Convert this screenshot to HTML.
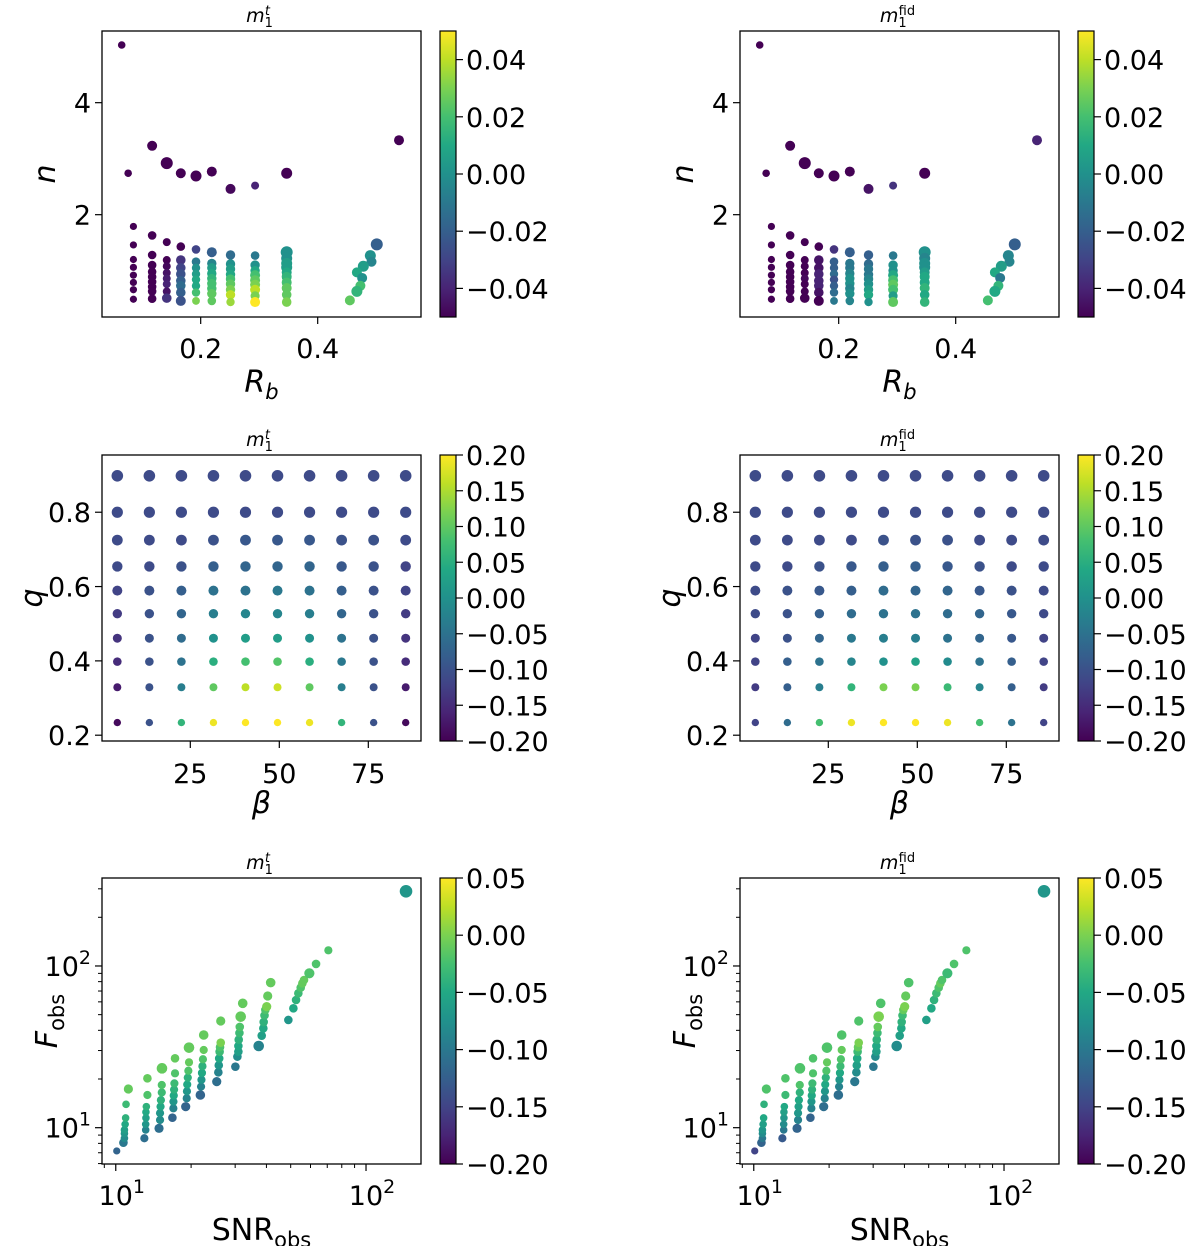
<!DOCTYPE html>
<html><head><meta charset="utf-8">
<style>
html,body{margin:0;padding:0;background:#fff;}
svg{display:block;font-family:"DejaVu Sans","Liberation Sans",sans-serif;}
</style></head>
<body>
<svg id="fig" width="1200" height="1246" viewBox="0 0 1200 1246" xmlns="http://www.w3.org/2000/svg">
<defs>
<linearGradient id="viridis" x1="0" y1="1" x2="0" y2="0">
<stop offset="0" stop-color="#440154"/><stop offset="0.1" stop-color="#482475"/><stop offset="0.2" stop-color="#414487"/><stop offset="0.3" stop-color="#355f8d"/><stop offset="0.4" stop-color="#2a788e"/><stop offset="0.5" stop-color="#21918c"/><stop offset="0.6" stop-color="#22a884"/><stop offset="0.7" stop-color="#44bf70"/><stop offset="0.8" stop-color="#7ad151"/><stop offset="0.9" stop-color="#bddf26"/><stop offset="1" stop-color="#fde725"/>
</linearGradient>
</defs>
</svg>
<script>
// ---------- Panel 1 data: R_b vs n ----------
const p1Rb = [0.065,0.076,0.117,0.142,0.166,0.192,0.219,0.251,0.293,0.347,0.539,
 0.085,0.085,0.085,0.085,0.085,0.085,0.085,0.085,
 0.117,0.117,0.117,0.117,0.117,0.117,0.117,0.117,0.117,
 0.142,0.142,0.142,0.142,0.142,0.142,0.142,0.142,
 0.166,0.166,0.166,0.166,0.166,0.166,0.166,0.166,
 0.192,0.192,0.192,0.192,0.192,0.192,0.192,0.192,
 0.219,0.219,0.219,0.219,0.219,0.219,0.219,0.219,0.219,
 0.251,0.251,0.251,0.251,0.251,0.251,0.251,0.251,0.251,
 0.293,0.293,0.293,0.293,0.293,0.293,0.293,0.293,0.293,
 0.347,0.347,0.347,0.347,0.347,0.347,0.347,0.347,0.347,0.347,
 0.501,0.490,0.492,0.478,0.467,0.476,0.473,0.467,0.455];
const p1N = [5.03,2.74,3.23,2.92,2.74,2.69,2.77,2.46,2.52,2.74,3.33,
 1.79,1.46,1.20,1.06,0.92,0.79,0.66,0.49,
 1.63,1.28,1.10,0.98,0.89,0.80,0.71,0.63,0.50,
 1.51,1.19,1.08,0.96,0.86,0.76,0.63,0.51,
 1.43,1.19,1.05,0.94,0.82,0.73,0.61,0.46,
 1.38,1.16,1.05,0.94,0.84,0.73,0.61,0.46,
 1.33,1.13,1.05,0.95,0.86,0.77,0.68,0.59,0.46,
 1.28,1.12,1.03,0.93,0.85,0.76,0.66,0.57,0.44,
 1.27,1.10,1.00,0.92,0.83,0.75,0.66,0.55,0.44,
 1.33,1.22,1.13,1.06,0.97,0.89,0.79,0.69,0.57,0.44,
 1.47,1.27,1.16,1.08,0.97,0.87,0.73,0.63,0.47];
const p1ColL = [-0.05,-0.05,-0.05,-0.05,-0.05,-0.05,-0.05,-0.048,-0.04,-0.05,-0.05,
 -0.05,-0.05,-0.05,-0.05,-0.05,-0.05,-0.05,-0.05,
 -0.05,-0.05,-0.05,-0.05,-0.05,-0.05,-0.05,-0.05,-0.05,
 -0.05,-0.05,-0.048,-0.045,-0.042,-0.04,-0.045,-0.035,
 -0.05,-0.035,-0.03,-0.025,-0.02,-0.015,-0.02,-0.025,
 -0.03,-0.01,0,0.005,0.01,0.01,0.02,0.03,
 -0.02,-0.005,0.005,0.01,0.015,0.02,0.02,0.025,0.025,
 -0.015,0,0.005,0.01,0.02,0.025,0.03,0.04,0.035,
 -0.01,0,0.01,0.02,0.025,0.03,0.04,0.03,0.05,
 0,0,0.005,0.005,0.01,0.015,0.02,0.025,0.025,0.03,
 -0.02,0,-0.005,0.005,0.01,0,0.02,0.015,0.025];
const p1ColR = [-0.05,-0.05,-0.05,-0.05,-0.05,-0.05,-0.05,-0.045,-0.035,-0.05,-0.04,
 -0.05,-0.05,-0.05,-0.05,-0.05,-0.05,-0.05,-0.05,
 -0.05,-0.05,-0.05,-0.05,-0.05,-0.05,-0.05,-0.05,-0.05,
 -0.05,-0.05,-0.05,-0.05,-0.048,-0.05,-0.05,-0.05,
 -0.05,-0.045,-0.045,-0.04,-0.04,-0.04,-0.045,-0.05,
 -0.035,-0.02,-0.02,-0.015,-0.025,-0.02,-0.015,-0.01,
 -0.02,-0.01,-0.01,-0.005,0,0,-0.005,0,-0.005,
 -0.02,-0.015,-0.01,-0.01,-0.005,0,0.005,0.01,0,
 -0.01,0,0,0.01,0.02,0.025,0.02,0.005,0.025,
 0,-0.005,0,0,0.005,0.01,0.01,0.015,0.01,0.015,
 -0.02,-0.005,-0.005,0.005,0.01,-0.01,0.015,0.01,0.02];
const p1Size = [3.8,3.8,5,6,5,5.5,5,5,4,5.5,5,
 3.6,3.6,3.6,3.6,3.6,3.6,3.6,3.6,
 4.3,4.3,4.3,4.3,4.3,4.3,4.3,4.3,4.3,
 4,4,4,4,4,4,4,4.8,
 4.3,4.8,4.8,4.8,4.8,4.8,4.8,5,
 4.3,4.3,4.2,4.2,4.2,4.2,4.2,3.9,
 5,4.7,4.7,4.7,4.7,4.7,4.7,4.7,4.3,
 4.7,4.7,4.7,4.7,4.7,4.7,4.7,4.7,4.2,
 4.3,4.7,4.7,5,5,5,5,4.6,5,
 6,5.5,5.5,5.5,5,5,5,5,4.8,4.8,
 6,5.5,5,5.5,5,5,5,5.5,5];

// ---------- Panel 2 data: beta vs q ----------
const p2Beta = [4.5,13.5,22.5,31.5,40.5,49.5,58.5,67.5,76.5,85.5];
const p2Q = [0.898,0.8,0.725,0.654,0.589,0.527,0.461,0.398,0.329,0.234];
const p2ColL = [
 [-0.11,-0.11,-0.11,-0.11,-0.11,-0.11,-0.11,-0.11,-0.11,-0.11],
 [-0.11,-0.11,-0.11,-0.11,-0.11,-0.11,-0.11,-0.11,-0.11,-0.11],
 [-0.11,-0.11,-0.11,-0.10,-0.09,-0.09,-0.09,-0.10,-0.10,-0.11],
 [-0.11,-0.11,-0.10,-0.08,-0.07,-0.07,-0.07,-0.09,-0.10,-0.12],
 [-0.12,-0.10,-0.08,-0.05,-0.05,-0.04,-0.05,-0.08,-0.10,-0.12],
 [-0.13,-0.10,-0.07,-0.03,-0.02,-0.02,-0.03,-0.07,-0.10,-0.13],
 [-0.14,-0.10,-0.06,0.00,0.02,0.02,0.00,-0.05,-0.10,-0.14],
 [-0.15,-0.10,-0.05,0.05,0.08,0.09,0.05,-0.04,-0.10,-0.15],
 [-0.17,-0.10,-0.03,0.10,0.16,0.17,0.10,-0.03,-0.10,-0.17],
 [-0.19,-0.10,0.06,0.19,0.20,0.20,0.19,0.06,-0.10,-0.19]];
const p2ColR = [
 [-0.11,-0.11,-0.11,-0.11,-0.11,-0.11,-0.11,-0.11,-0.11,-0.11],
 [-0.11,-0.11,-0.11,-0.11,-0.11,-0.11,-0.11,-0.11,-0.11,-0.11],
 [-0.11,-0.11,-0.11,-0.11,-0.10,-0.10,-0.10,-0.11,-0.11,-0.11],
 [-0.11,-0.11,-0.10,-0.09,-0.08,-0.08,-0.09,-0.10,-0.11,-0.11],
 [-0.11,-0.10,-0.09,-0.08,-0.06,-0.07,-0.07,-0.09,-0.10,-0.11],
 [-0.11,-0.10,-0.08,-0.06,-0.05,-0.05,-0.06,-0.07,-0.09,-0.11],
 [-0.12,-0.10,-0.07,-0.04,-0.03,-0.03,-0.05,-0.07,-0.09,-0.12],
 [-0.12,-0.08,-0.05,-0.02,0.00,0.03,-0.01,-0.05,-0.08,-0.12],
 [-0.13,-0.08,-0.03,0.06,0.12,0.12,0.07,-0.02,-0.08,-0.13],
 [-0.12,-0.06,0.08,0.19,0.20,0.20,0.19,0.08,-0.05,-0.12]];
const p2Size = [5.8,5.6,5.4,5.2,5,4.7,4.5,4.3,4,3.7];

// ---------- Panel 3 data: SNR vs F (log-log) ----------
const p3Snr = [10.09,10.73,10.83,10.83,10.83,10.9,10.95,10.99,11.23,
 13.01,13.17,13.17,13.2,13.2,13.25,13.38,13.38,
 14.89,15.03,15.03,15.1,15.15,15.27,15.27,15.3,
 16.84,16.99,17.0,17.05,17.1,17.15,17.25,17.25,
 19.03,19.21,19.25,19.3,19.4,19.5,19.62,19.62,
 21.78,21.92,22.0,22.1,22.2,22.3,22.46,22.46,
 25.32,25.7,25.8,25.9,26.0,26.1,26.27,26.27,
 30.06,30.62,30.9,30.9,31.0,31.2,31.3,31.57,32.16,
 37.26,38.3,38.88,39.0,39.3,39.6,40.1,40.47,41.6,
 48.94,51.26,52.53,53.65,54.83,55.67,56.53,59.37,63.14,70.71,
 144.5];
const p3F = [7.18,8.08,8.6,9.2,9.68,10.5,11.5,13.95,17.35,
 8.6,9.68,10.5,11.5,12.5,13.5,15.93,20.2,
 9.91,11.16,12.3,13.5,14.8,16.5,18.37,23.29,
 11.53,13.18,14.5,15.8,17.2,18.8,21.69,26.85,
 13.49,15.19,16.8,18.5,20.4,22.5,25.37,31.25,
 15.93,17.94,19.8,21.8,24,26.5,30.24,37.43,
 19.26,22.0,24.3,26.8,29.5,31.5,33.56,45.69,
 23.84,27.5,29.53,32,35,38.5,42,48.6,58.76,
 32.0,37.08,41.17,45,49.5,53.5,56.05,65.2,78.9,
 46.35,54.7,61.6,67.76,73.45,78.15,81.9,90.1,102.9,125.0,
 289.6];
const p3ColL = [-0.12,-0.10,-0.08,-0.07,-0.06,-0.05,-0.04,-0.03,-0.01,
 -0.11,-0.09,-0.07,-0.06,-0.05,-0.04,-0.02,-0.01,
 -0.11,-0.08,-0.07,-0.05,-0.04,-0.03,-0.02,-0.01,
 -0.12,-0.09,-0.07,-0.05,-0.04,-0.03,-0.02,-0.01,
 -0.12,-0.09,-0.07,-0.05,-0.04,-0.02,-0.01,-0.01,
 -0.12,-0.09,-0.07,-0.05,-0.04,-0.02,-0.01,-0.01,
 -0.11,-0.09,-0.07,-0.05,-0.03,-0.02,0.00,-0.01,
 -0.10,-0.08,-0.06,-0.05,-0.04,-0.03,-0.02,-0.01,-0.01,
 -0.09,-0.06,-0.05,-0.04,-0.03,-0.02,0.00,-0.01,-0.01,
 -0.07,-0.05,-0.04,-0.03,-0.02,-0.01,-0.01,-0.02,-0.02,-0.02,
 -0.07];
const p3ColR = [-0.15,-0.12,-0.10,-0.08,-0.07,-0.06,-0.05,-0.04,-0.02,
 -0.13,-0.10,-0.08,-0.07,-0.06,-0.05,-0.03,-0.02,
 -0.12,-0.09,-0.07,-0.06,-0.05,-0.04,-0.02,-0.02,
 -0.12,-0.09,-0.07,-0.05,-0.04,-0.03,-0.02,-0.02,
 -0.11,-0.09,-0.07,-0.05,-0.04,-0.02,-0.01,-0.02,
 -0.11,-0.09,-0.07,-0.05,-0.03,-0.02,-0.01,-0.02,
 -0.10,-0.08,-0.06,-0.05,-0.03,-0.01,0.00,-0.02,
 -0.10,-0.08,-0.06,-0.05,-0.04,-0.03,-0.01,0.00,-0.02,
 -0.08,-0.06,-0.05,-0.04,-0.03,-0.01,0.00,-0.01,-0.02,
 -0.06,-0.05,-0.04,-0.03,-0.02,-0.01,-0.02,-0.03,-0.02,-0.02,
 -0.07];
const p3Size = [3.6,4.3,3.8,3.8,3.8,3.8,3.8,3.8,4.6,
 4.1,3.8,3.8,3.8,3.8,3.8,4.1,4.3,
 4.6,4.1,4.1,4.1,4.1,4.1,4.1,5.3,
 4.3,4.1,4.1,4.1,4.1,4.1,4.1,4.3,
 4.6,4.1,4.1,4.1,4.1,4.1,4.1,5.3,
 4.8,4.1,4.1,4.1,4.1,4.1,4.1,4.8,
 4.6,4.3,4.3,4.3,4.3,4.3,4.3,4.6,
 4.3,4.3,4.3,4.3,4.3,4.3,4.3,5.3,4.8,
 5.3,4.3,4.3,4.3,4.3,4.3,4.6,4.6,4.8,
 4.3,4.3,4.3,4.3,4.3,4.3,4.3,5.1,4.3,4.1,
 6.3];

// ---------- rendering ----------
const NS = "http://www.w3.org/2000/svg";
const svg = document.getElementById('fig');
const VS = [[0,[68,1,84]],[0.1,[72,36,117]],[0.2,[65,68,135]],[0.3,[53,95,141]],[0.4,[42,120,142]],[0.5,[33,145,140]],[0.6,[34,168,132]],[0.7,[68,191,112]],[0.8,[122,209,81]],[0.9,[189,223,38]],[1,[253,231,37]]];
function viridis(t){t=Math.max(0,Math.min(1,t));for(let i=0;i<VS.length-1;i++){const a=VS[i],b=VS[i+1];if(t<=b[0]){const f=(t-a[0])/(b[0]-a[0]);const c=a[1].map((v,k)=>Math.round(v+(b[1][k]-v)*f));return `rgb(${c[0]},${c[1]},${c[2]})`;}}return 'rgb(253,231,37)';}
function mk(tag,attrs,parent){const e=document.createElementNS(NS,tag);for(const k in attrs)e.setAttribute(k,attrs[k]);(parent||svg).appendChild(e);return e;}
function lin(d0,d1,p0,p1){return v=>p0+(v-d0)/(d1-d0)*(p1-p0);}
function lg(d0,d1,p0,p1){return v=>p0+(Math.log10(v)-Math.log10(d0))/(Math.log10(d1)-Math.log10(d0))*(p1-p0);}

const OFF = 638;
const panels = [
 {top:31,bot:317,xd:[0.0313,0.5766],yd:[0.173,5.28],log:false,cb:[-0.05,0.05],
  xt:[0.2,0.4],xtl:['0.2','0.4'],yt:[2,4],ytl:['2','4'],cbt:[0.04,0.02,0,-0.02,-0.04],cbl:['0.04','0.02','0.00','\u22120.02','\u22120.04'],
  xlab:'Rb',ylab:'n',xlabY:392,xtY:358,ylx:47,name:'rb-n'},
 {top:455,bot:741,xd:[0.197,89.8],yd:[0.1844,0.954],log:false,cb:[-0.2,0.2],
  xt:[25,50,75],xtl:['25','50','75'],yt:[0.2,0.4,0.6,0.8],ytl:['0.2','0.4','0.6','0.8'],
  cbt:[0.2,0.15,0.1,0.05,0,-0.05,-0.1,-0.15,-0.2],cbl:['0.20','0.15','0.10','0.05','0.00','\u22120.05','\u22120.10','\u22120.15','\u22120.20'],
  xlab:'beta',ylab:'q',xlabY:813,xtY:783,ylx:60,name:'beta-q'},
 {top:878,bot:1164,xd:[Math.pow(10,0.945),Math.pow(10,2.2197)],yd:[Math.pow(10,0.7755),Math.pow(10,2.544)],log:true,cb:[-0.2,0.05],
  xt:[10,100],xtl:['1','2'],yt:[10,100],ytl:['1','2'],
  cbt:[0.05,0,-0.05,-0.1,-0.15,-0.2],cbl:['0.05','0.00','\u22120.05','\u22120.10','\u22120.15','\u22120.20'],
  xlab:'snr',ylab:'F',xlabY:1240,xtY:1205,ylx:45,name:'snr-f'}];

panels.forEach((P,pi)=>{
 [0,1].forEach(side=>{
  const L=102+side*OFF, R=421+side*OFF, T=P.top, B=P.bot;
  const g=mk('g',{});
  
  
  const sx=P.log?lg(P.xd[0],P.xd[1],L,R):lin(P.xd[0],P.xd[1],L,R);
  const sy=P.log?lg(P.yd[0],P.yd[1],B,T):lin(P.yd[0],P.yd[1],B,T);
  const cx=(L+R)/2;
  const tt=mk('text',{x:cx-2,y:T-9,'font-size':19,'text-anchor':'middle'},g);
  
  
  tt.innerHTML= side? '<tspan font-style="italic">m</tspan><tspan font-size="13" dy="5">1</tspan><tspan font-size="13" dy="-12" dx="-8">fid</tspan>' : '<tspan font-style="italic">m</tspan><tspan font-size="13" dy="5">1</tspan><tspan font-size="13" font-style="italic" dy="-12" dx="-8">t</tspan>';
  const pts=mk('g',{},g);
  
  
  const norm=c=>(c-P.cb[0])/(P.cb[1]-P.cb[0]);
  if(pi===0){
   for(let i=0;i<p1Rb.length;i++){
    const c=mk('circle',{cx:sx(p1Rb[i]),cy:sy(p1N[i]),r:p1Size[i],fill:viridis(norm(side?p1ColR[i]:p1ColL[i]))},pts);
    
    
   }
  } else if(pi===1){
   for(let r=0;r<p2Q.length;r++)for(let k=0;k<p2Beta.length;k++){
    const col=side?p2ColR[r][k]:p2ColL[r][k];
    const c=mk('circle',{cx:sx(p2Beta[k]),cy:sy(p2Q[r]),r:p2Size[r],fill:viridis(norm(col))},pts);
    
    
   }
  } else {
   for(let i=0;i<p3Snr.length;i++){
    const c=mk('circle',{cx:sx(p3Snr[i]),cy:sy(p3F[i]),r:p3Size[i],fill:viridis(norm(side?p3ColR[i]:p3ColL[i]))},pts);
    
    
   }
  }
  const fr=mk('rect',{x:L,y:T,width:R-L,height:B-T,fill:'none',stroke:'#000','stroke-width':1.3},g);
  
  
  P.xt.forEach((v,i)=>{
   const x=sx(v);
   mk('line',{x1:x,x2:x,y1:B,y2:B+7,stroke:'#000','stroke-width':1.2},g);
   const t=mk('text',{x:x,y:P.xtY,'font-size':27,'text-anchor':'middle'},g);
   
   
   if(P.log){t.innerHTML='10<tspan font-size="19" dy="-12">'+P.xtl[i]+'</tspan>';t.setAttribute('x',x+6);}
   else t.textContent=P.xtl[i];
  });
  P.yt.forEach((v,i)=>{
   const y=sy(v);
   mk('line',{x1:L-7,x2:L,y1:y,y2:y,stroke:'#000','stroke-width':1.2},g);
   const t=mk('text',{x:L-11,y:y+10,'font-size':27,'text-anchor':'end'},g);
   
   
   if(P.log){t.innerHTML='10<tspan font-size="19" dy="-12">'+P.ytl[i]+'</tspan>';}
   else t.textContent=P.ytl[i];
  });
  if(P.log){
   const minors=[9,20,30,40,50,60,70,80,90,200];
   minors.forEach(v=>{const x=sx(v);if(x>=L&&x<=R)mk('line',{x1:x,x2:x,y1:B,y2:B+4,stroke:'#000','stroke-width':1},g);});
   const yminors=[6,7,8,9,20,30,40,50,60,70,80,90,200,300];
   yminors.forEach(v=>{const y=sy(v);if(y>=T&&y<=B)mk('line',{x1:L-4,x2:L,y1:y,y2:y,stroke:'#000','stroke-width':1},g);});
  }
  const xl=mk('text',{x:cx,y:P.xlabY,'font-size':30,'text-anchor':'middle'},g);
  
  
  if(P.xlab==='Rb') xl.innerHTML='<tspan font-style="italic">R</tspan><tspan font-style="italic" font-size="21" dy="7">b</tspan>';
  else if(P.xlab==='beta') xl.innerHTML='<tspan font-style="italic">β</tspan>';
  else xl.innerHTML='SNR<tspan font-size="21" dy="7">obs</tspan>';
  const ym=(T+B)/2, yx=L-P.ylx;
  const yl=mk('text',{x:0,y:0,'font-size':30,'text-anchor':'middle',transform:`translate(${yx},${ym}) rotate(-90)`},g);
  
  
  if(P.ylab==='F') yl.innerHTML='<tspan font-style="italic">F</tspan><tspan font-size="21" dy="7">obs</tspan>';
  else yl.innerHTML='<tspan font-style="italic">'+P.ylab+'</tspan>';
  const cbx=440+side*OFF;
  const cb=mk('rect',{x:cbx,y:T,width:16,height:B-T,fill:'url(#viridis)',stroke:'#000','stroke-width':1.2},g);
  
  
  const scb=lin(P.cb[0],P.cb[1],B,T);
  P.cbt.forEach((v,i)=>{
   const y=scb(v);
   mk('line',{x1:cbx+16,x2:cbx+23,y1:y,y2:y,stroke:'#000','stroke-width':1.2},g);
   const t=mk('text',{x:cbx+26,y:y+10,'font-size':27},g);
   
   
   t.textContent=P.cbl[i];
  });
 });
});
</script>
</body></html>
